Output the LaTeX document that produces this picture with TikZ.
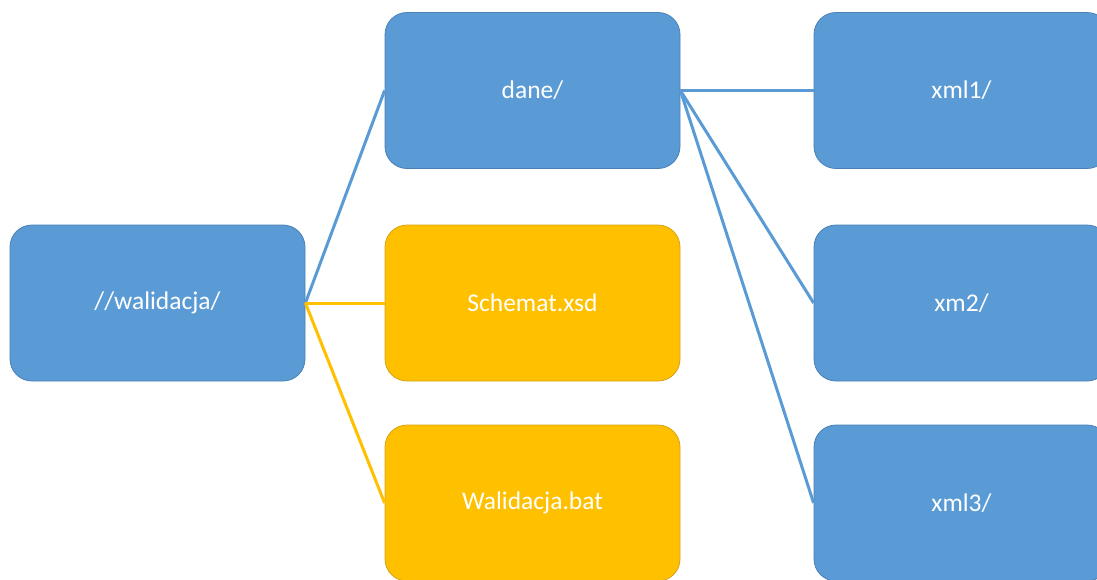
\documentclass[tikz,border=0pt]{standalone}
\usepackage{fontspec}
\setmainfont{Carlito}
\begin{document}
\begin{tikzpicture}[x=1pt,y=-1pt,
  box/.style={draw, rounded corners=22pt, minimum width=295pt, minimum height=156pt, inner sep=0pt, line width=0.8pt, text=white, font=\fontsize{25.5}{30}\selectfont},
  bluebox/.style={box, fill=boxblue, draw=boxblueedge},
  goldbox/.style={box, fill=boxgold, draw=boxgoldedge},
  bline/.style={draw=lineblue, line width=3pt},
  gline/.style={draw=boxgold, line width=3pt}]
\definecolor{boxblue}{HTML}{5B9BD5}
\definecolor{boxblueedge}{HTML}{4A80B4}
\definecolor{lineblue}{HTML}{5B9BD5}
\definecolor{boxgold}{HTML}{FFC000}
\definecolor{boxgoldedge}{HTML}{D4A21A}
\useasboundingbox (0,0) rectangle (1097,579);
\clip (0,0) rectangle (1097,579);
\node[bluebox] (root) at (157.5,303) {//walidacja/};
\node[bluebox] (dane) at (532.5,90.5) {dane/};
\node[goldbox] (xsd) at (532.5,303) {Schemat.xsd};
\node[goldbox] (bat) at (532.5,503) {Walidacja.bat};
\node[bluebox] (x1) at (961.5,90.5) {xml1/};
\node[bluebox] (x2) at (961.5,303) {xm2/};
\node[bluebox] (x3) at (961.5,503) {xml3/};
\draw[bline] (root.east) -- (dane.west);
\draw[gline] (root.east) -- (xsd.west);
\draw[gline] (root.east) -- (bat.west);
\draw[bline] (dane.east) -- (x1.west);
\draw[bline] (dane.east) -- (x2.west);
\draw[bline] (dane.east) -- (x3.west);
\end{tikzpicture}
\end{document}
